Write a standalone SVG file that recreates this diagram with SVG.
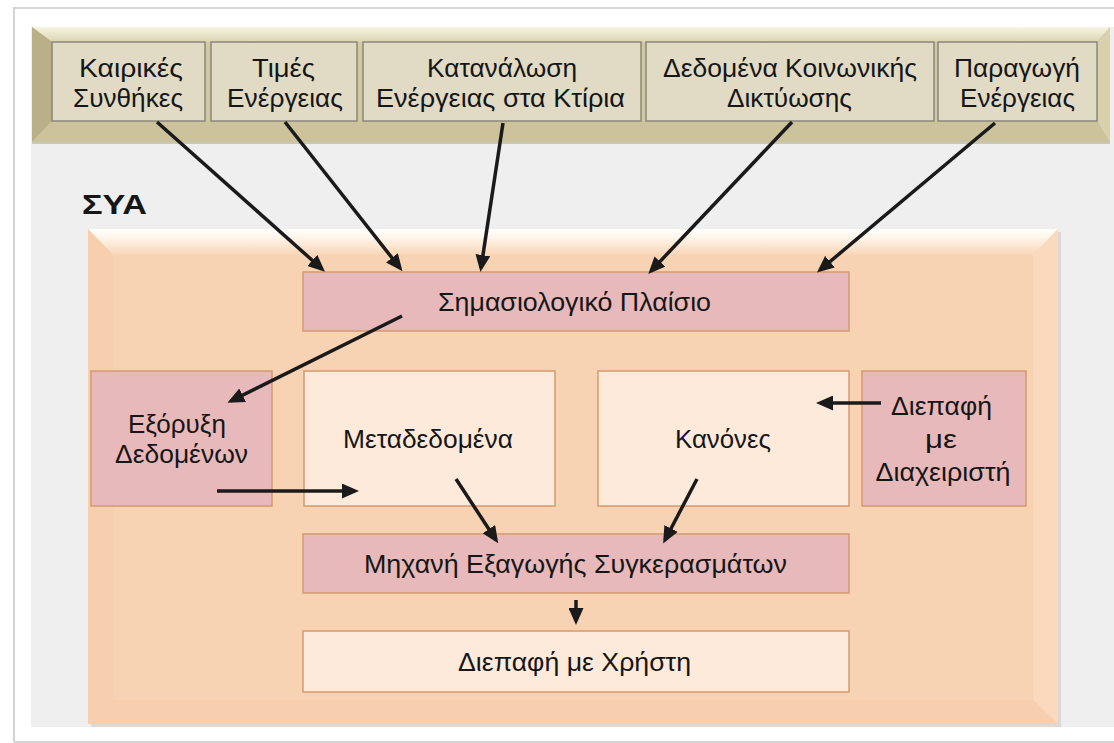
<svg xmlns="http://www.w3.org/2000/svg" width="1114" height="743" viewBox="0 0 1114 743">
<style>
text{font-family:"Liberation Sans",Arial,sans-serif;fill:#161616;text-anchor:middle}
.t{font-size:25px}
.m{font-size:26px}
.src{fill:#e1dbc6;stroke:#8a877b;stroke-width:1.5}
.pink{fill:#e8b9ba;stroke:#d39a70;stroke-width:1.5}
.lite{fill:#fdeadb;stroke:#d39a70;stroke-width:1.5}
.ar{stroke:#1a1a1a;stroke-width:3.5;fill:none;marker-end:url(#ah)}
</style>
<defs>
<marker id="ah" markerUnits="userSpaceOnUse" markerWidth="17" markerHeight="15" viewBox="0 0 17 15" refX="13" refY="7.5" orient="auto">
<path d="M0,0 L17,7.5 L0,15 z" fill="#1a1a1a"/>
</marker>
<linearGradient id="bandTop" x1="0" y1="0" x2="0" y2="1">
<stop offset="0" stop-color="#f8f4e2"/><stop offset="1" stop-color="#dcd4b2"/>
</linearGradient>
<linearGradient id="orTop" x1="0" y1="0" x2="0" y2="1">
<stop offset="0" stop-color="#ffffff"/><stop offset="0.3" stop-color="#fff6ec"/><stop offset="1" stop-color="#f9d6b7"/>
</linearGradient>
</defs>
<rect x="0" y="0" width="1114" height="743" fill="#ffffff"/>
<path d="M14,742 L14,8 L1114,8" fill="none" stroke="#d4d4d4" stroke-width="2"/>
<line x1="14" y1="742" x2="1114" y2="742" stroke="#d4d4d4" stroke-width="2"/>
<rect x="31" y="27" width="1083" height="700" fill="#efefef"/>

<g id="band">
<rect x="32" y="27" width="1078" height="115" fill="#d2c9a3"/>
<polygon points="32,27 1110,27 1097,42 52,42" fill="url(#bandTop)"/>
<polygon points="32,27 52,42 52,121 32,142" fill="#bab087"/>
<polygon points="1110,27 1110,142 1097,121 1097,42" fill="#d9d1ad"/>
<polygon points="32,142 52,121 1097,121 1110,142" fill="#ccc39c"/>
<line x1="32" y1="143" x2="1110" y2="143" stroke="#c9c6bb" stroke-width="2"/>
</g>

<g id="n-kairikes"><rect class="src" x="52" y="42" width="153" height="79"/>
<text class="t" x="131" y="77" textLength="104" lengthAdjust="spacingAndGlyphs">Καιρικές</text>
<text class="t" x="128" y="107" textLength="110" lengthAdjust="spacingAndGlyphs">Συνθήκες</text></g>
<g id="n-times"><rect class="src" x="211" y="42" width="146" height="79"/>
<text class="t" x="283.5" y="77" textLength="63" lengthAdjust="spacingAndGlyphs">Τιμές</text>
<text class="t" x="285" y="107" textLength="116" lengthAdjust="spacingAndGlyphs">Ενέργειας</text></g>
<g id="n-katanalosi"><rect class="src" x="363" y="42" width="278" height="79"/>
<text class="t" x="502" y="77" textLength="150" lengthAdjust="spacingAndGlyphs">Κατανάλωση</text>
<text class="t" x="500.5" y="107" textLength="249" lengthAdjust="spacingAndGlyphs">Ενέργειας στα Κτίρια</text></g>
<g id="n-koinoniki"><rect class="src" x="646" y="42" width="288" height="79"/>
<text class="t" x="790" y="77" textLength="254" lengthAdjust="spacingAndGlyphs">Δεδομένα Κοινωνικής</text>
<text class="t" x="789.5" y="107" textLength="125" lengthAdjust="spacingAndGlyphs">Δικτύωσης</text></g>
<g id="n-paragogi"><rect class="src" x="938" y="42" width="159" height="79"/>
<text class="t" x="1017" y="77" textLength="126" lengthAdjust="spacingAndGlyphs">Παραγωγή</text>
<text class="t" x="1017.5" y="107" textLength="115" lengthAdjust="spacingAndGlyphs">Ενέργειας</text></g>

<text x="82" y="214" style="font-size:27px;font-weight:bold;text-anchor:start" textLength="65" lengthAdjust="spacingAndGlyphs">ΣΥΑ</text>

<g id="sya-panel">
<rect x="91" y="232" width="970" height="495" fill="#cfcac4" opacity="0.6"/>
<rect x="88" y="229" width="970" height="495" fill="#f8d3b3"/>
<polygon points="88,229 1058,229 1033,255 113,255" fill="url(#orTop)"/>
<polygon points="1058,229 1058,724 1033,700 1033,255" fill="#fbd9bc"/>
<polygon points="88,229 113,255 113,700 88,724" fill="#f6cfae"/>
<polygon points="88,724 113,700 1033,700 1058,724" fill="#f5cfae"/>
</g>

<g id="n-semantic"><rect class="pink" x="303" y="272" width="546" height="59"/>
<text class="m" x="574.5" y="311" textLength="273" lengthAdjust="spacingAndGlyphs">Σημασιολογικό Πλαίσιο</text></g>
<g id="n-exoryxi"><rect class="pink" x="91" y="371" width="181" height="135"/>
<text class="m" x="177" y="433" textLength="98" lengthAdjust="spacingAndGlyphs">Εξόρυξη</text>
<text class="m" x="181.5" y="463" textLength="133" lengthAdjust="spacingAndGlyphs">Δεδομένων</text></g>
<g id="n-metadata"><rect class="lite" x="304" y="371" width="251" height="135"/>
<text class="m" x="428" y="448" textLength="170" lengthAdjust="spacingAndGlyphs">Μεταδεδομένα</text></g>
<g id="n-kanones"><rect class="lite" x="598" y="371" width="251" height="135"/>
<text class="m" x="723" y="448" textLength="96" lengthAdjust="spacingAndGlyphs">Κανόνες</text></g>
<g id="n-admin"><rect class="pink" x="862" y="371" width="164" height="135"/>
<text class="m" x="941.5" y="415" textLength="101" lengthAdjust="spacingAndGlyphs">Διεπαφή</text>
<text class="m" x="941" y="448" textLength="32" lengthAdjust="spacingAndGlyphs">με</text>
<text class="m" x="943" y="481" textLength="135" lengthAdjust="spacingAndGlyphs">Διαχειριστή</text></g>
<g id="n-engine"><rect class="pink" x="303" y="534" width="546" height="59"/>
<text class="m" x="575.5" y="573" textLength="423" lengthAdjust="spacingAndGlyphs">Μηχανή Εξαγωγής Συγκερασμάτων</text></g>
<g id="n-user"><rect class="lite" x="303" y="631" width="546" height="61"/>
<text class="m" x="574.5" y="671" textLength="233" lengthAdjust="spacingAndGlyphs">Διεπαφή με Χρήστη</text></g>

<g id="connectors">
<line class="ar" x1="157" y1="122" x2="322" y2="269"/>
<line class="ar" x1="285" y1="122" x2="400" y2="268"/>
<line class="ar" x1="503" y1="123" x2="481" y2="268"/>
<line class="ar" x1="792" y1="122" x2="651" y2="271"/>
<line class="ar" x1="995" y1="123" x2="820" y2="270"/>
<line class="ar" x1="402" y1="316" x2="231" y2="401"/>
<line class="ar" x1="217" y1="491" x2="355" y2="491"/>
<line class="ar" x1="456" y1="479" x2="496" y2="540"/>
<line class="ar" x1="697" y1="479" x2="665" y2="540"/>
<line class="ar" x1="881" y1="403" x2="820" y2="403"/>
<line class="ar" x1="576" y1="600" x2="576" y2="621"/>
</g>
</svg>
